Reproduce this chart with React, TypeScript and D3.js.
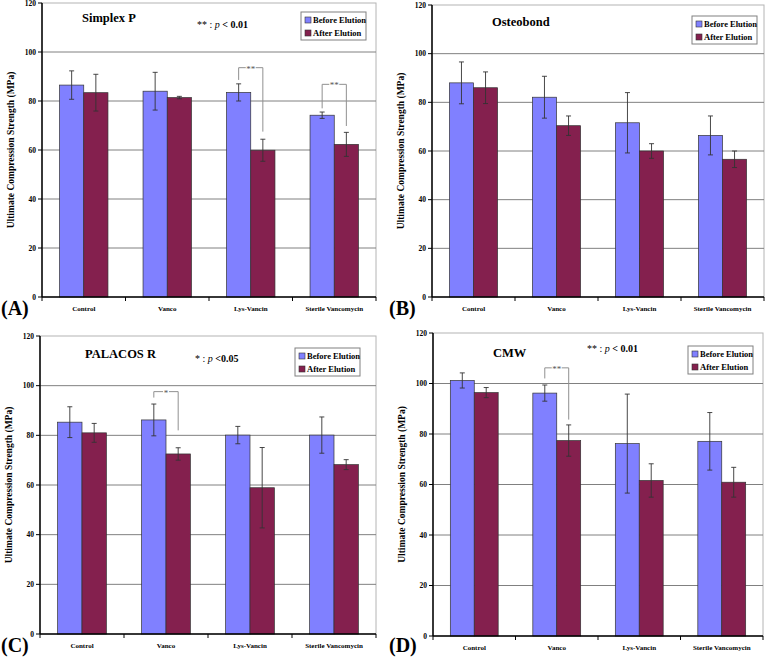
import * as d3 from 'd3';

const categories = ['Control', 'Vanco', 'Lys-Vancin', 'Sterile Vancomycin'];
const seriesNames = ['Before Elution', 'After Elution'];
const yTicks = [0, 20, 40, 60, 80, 100, 120];

const simplexBefore = [86.5, 84.0, 83.5, 74.2];
const simplexBeforeErr = [5.8, 7.7, 3.5, 1.3];
const simplexAfter = [83.4, 81.4, 59.9, 62.3];
const simplexAfterErr = [7.5, 0.5, 4.5, 4.9];

const osteobondBefore = [88.0, 82.1, 71.6, 66.4];
const osteobondBeforeErr = [8.6, 8.6, 12.4, 8.0];
const osteobondAfter = [86.0, 70.4, 60.0, 56.6];
const osteobondAfterErr = [6.5, 4.0, 3.0, 3.4];

const palacosBefore = [85.3, 86.2, 80.1, 80.1];
const palacosBeforeErr = [6.2, 6.4, 3.5, 7.3];
const palacosAfter = [81.0, 72.5, 58.9, 68.2];
const palacosAfterErr = [3.8, 2.5, 16.2, 2.0];

const cmwBefore = [101.2, 96.2, 76.2, 77.1];
const cmwBeforeErr = [3.0, 3.2, 19.6, 11.4];
const cmwAfter = [96.4, 77.4, 61.6, 60.9];
const cmwAfterErr = [2.0, 6.2, 6.6, 5.9];

// significance brackets: y of top line, y where left / right legs end
const simplexBrackets = [
  { cat: 'Lys-Vancin', top: 93.6, left: 88.6, right: 67.5, label: '**' },
  { cat: 'Sterile Vancomycin', top: 86.8, left: 77.0, right: 69.8, label: '**' },
];
const palacosBrackets = [{ cat: 'Vanco', top: 97.6, left: 95.2, right: 82.0, label: '*' }];
const cmwBrackets = [{ cat: 'Vanco', top: 106.2, left: 102.0, right: 85.7, label: '**' }];

const colors = ['#8080ff', '#84204e'];
const serif = 'Liberation Serif, Times New Roman, serif';

type Bracket = { cat: string; top: number; left: number; right: number; label: string };

interface PanelProps {
  tag: string;
  title: string;
  before: number[];
  beforeErr: number[];
  after: number[];
  afterErr: number[];
  brackets: Bracket[];
  note: string | null;
  box: { l: number; t: number; r: number; b: number };
  titlePos: [number, number];
  notePos: [number, number];
  legendPos: [number, number];
  tagPos: [number, number];
}

function Panel(p: PanelProps) {
  const { l, t, r, b } = p.box;
  const y = d3.scaleLinear().domain([0, 120]).range([b, t]);
  const x = d3.scaleBand<string>().domain(categories).range([l, r]);
  const bw = x.bandwidth() * 0.29;
  const inner = d3.scaleBand<number>().domain([0, 1]).range([-bw, bw]);
  const vals = [p.before, p.after];
  const errs = [p.beforeErr, p.afterErr];
  const cx = (c: string, s: number) => x(c)! + x.bandwidth() / 2 + inner(s)! + bw / 2;

  return (
    <g>
      <rect x={l} y={t} width={r - l} height={b - t} fill="white" stroke="#b4b4b4" />
      {yTicks.filter(v => v > 0 && v < 120).map(v => (
        <line key={v} x1={l} x2={r} y1={y(v)} y2={y(v)} stroke="#808080" strokeWidth={1} />
      ))}
      {categories.map((c, i) =>
        [0, 1].map(s => {
          const v = vals[s][i];
          const e = errs[s][i];
          const xc = cx(c, s);
          return (
            <g key={c + s}>
              <rect x={xc - bw / 2} y={y(v)} width={bw} height={y(0) - y(v)} fill={colors[s]} stroke="#333" strokeWidth={0.7} />
              <line x1={xc} x2={xc} y1={y(v + e)} y2={y(v - e)} stroke="#333" strokeWidth={0.9} />
              <line x1={xc - 2.5} x2={xc + 2.5} y1={y(v + e)} y2={y(v + e)} stroke="#333" strokeWidth={0.9} />
              <line x1={xc - 2.5} x2={xc + 2.5} y1={y(v - e)} y2={y(v - e)} stroke="#333" strokeWidth={0.9} />
            </g>
          );
        })
      )}
      {p.brackets.map(br => {
        const x1 = cx(br.cat, 0);
        const x2 = cx(br.cat, 1);
        const mid = (x1 + x2) / 2;
        const gap = br.label.length * 4 + 2;
        return (
          <g key={br.cat} stroke="#909090" strokeWidth={1} fill="none">
            <path d={`M${x1},${y(br.left)}V${y(br.top)}H${mid - gap / 2}`} />
            <path d={`M${mid + gap / 2},${y(br.top)}H${x2}V${y(br.right)}`} />
            <text x={mid} y={y(br.top) + 4} textAnchor="middle" fontFamily={serif} fontSize={9} fill="#555" stroke="none">
              {br.label}
            </text>
          </g>
        );
      })}
      {/* axes */}
      <line x1={l} x2={l} y1={t} y2={b} stroke="black" strokeWidth={1.5} />
      <line x1={l} x2={r} y1={b} y2={b} stroke="black" strokeWidth={1.5} />
      {yTicks.map(v => (
        <g key={v}>
          <line x1={l - 4} x2={l} y1={y(v)} y2={y(v)} stroke="black" />
          <text x={l - 6} y={y(v) + 2.6} textAnchor="end" fontFamily={serif} fontWeight="bold" fontSize={7.5}>
            {v}
          </text>
        </g>
      ))}
      {categories.map((c, i) => (
        <g key={c}>
          <line x1={x(c)! + x.bandwidth()} x2={x(c)! + x.bandwidth()} y1={b} y2={b + 4} stroke="black" />
          {i === 0 && <line x1={l} x2={l} y1={b} y2={b + 4} stroke="black" />}
          <text x={x(c)! + x.bandwidth() / 2} y={b + 14} textAnchor="middle" fontFamily={serif} fontWeight="bold" fontSize={7}>
            {c}
          </text>
        </g>
      ))}
      <text
        transform={`translate(${l - 28},${(t + b) / 2}) rotate(-90)`}
        textAnchor="middle"
        fontFamily={serif}
        fontWeight="bold"
        fontSize={9.5}
      >
        Ultimate Compression Strength (MPa)
      </text>
      <text x={p.titlePos[0]} y={p.titlePos[1]} fontFamily={serif} fontWeight="bold" fontSize={12.5}>
        {p.title}
      </text>
      {p.note && (
        <text x={p.notePos[0]} y={p.notePos[1]} fontFamily={serif} fontSize={10}>
          {p.note} : <tspan fontStyle="italic">p</tspan>
          <tspan fontWeight="bold"> {p.note === '*' ? '<0.05' : '< 0.01'}</tspan>
        </text>
      )}
      <g transform={`translate(${p.legendPos[0]},${p.legendPos[1]})`}>
        <rect x={0} y={0} width={65} height={28} fill="white" stroke="#808080" />
        {seriesNames.map((s, i) => (
          <g key={s}>
            <rect x={4} y={5 + i * 13} width={6} height={6} fill={colors[i]} stroke="#333" strokeWidth={0.6} />
            <text x={12} y={11 + i * 13} fontFamily={serif} fontWeight="bold" fontSize={8.5}>
              {s}
            </text>
          </g>
        ))}
      </g>
      <text x={p.tagPos[0]} y={p.tagPos[1]} fontFamily={serif} fontWeight="bold" fontSize={20}>
        {p.tag}
      </text>
    </g>
  );
}

export default function App() {
  return (
    <svg width={765} height={658} style={{ position: 'absolute', left: 0, top: 0, display: 'block', background: 'white' }}>
      <Panel
        tag="(A)"
        title="Simplex P"
        before={simplexBefore}
        beforeErr={simplexBeforeErr}
        after={simplexAfter}
        afterErr={simplexAfterErr}
        brackets={simplexBrackets}
        note="**"
        box={{ l: 42, t: 3, r: 376, b: 297 }}
        titlePos={[82, 22]}
        notePos={[197, 28]}
        legendPos={[301, 12]}
        tagPos={[1, 315]}
      />
      <Panel
        tag="(B)"
        title="Osteobond"
        before={osteobondBefore}
        beforeErr={osteobondBeforeErr}
        after={osteobondAfter}
        afterErr={osteobondAfterErr}
        brackets={[]}
        note={null}
        box={{ l: 432, t: 5, r: 764, b: 297 }}
        titlePos={[492, 26]}
        notePos={[0, 0]}
        legendPos={[692, 16]}
        tagPos={[389, 315]}
      />
      <Panel
        tag="(C)"
        title="PALACOS R"
        before={palacosBefore}
        beforeErr={palacosBeforeErr}
        after={palacosAfter}
        afterErr={palacosAfterErr}
        brackets={palacosBrackets}
        note="*"
        box={{ l: 40, t: 336, r: 376, b: 634 }}
        titlePos={[85, 358]}
        notePos={[195, 362]}
        legendPos={[295, 348]}
        tagPos={[1, 652]}
      />
      <Panel
        tag="(D)"
        title="CMW"
        before={cmwBefore}
        beforeErr={cmwBeforeErr}
        after={cmwAfter}
        afterErr={cmwAfterErr}
        brackets={cmwBrackets}
        note="**"
        box={{ l: 433, t: 333, r: 763, b: 636 }}
        titlePos={[493, 357]}
        notePos={[587, 352]}
        legendPos={[688, 346]}
        tagPos={[389, 652]}
      />
    </svg>
  );
}
